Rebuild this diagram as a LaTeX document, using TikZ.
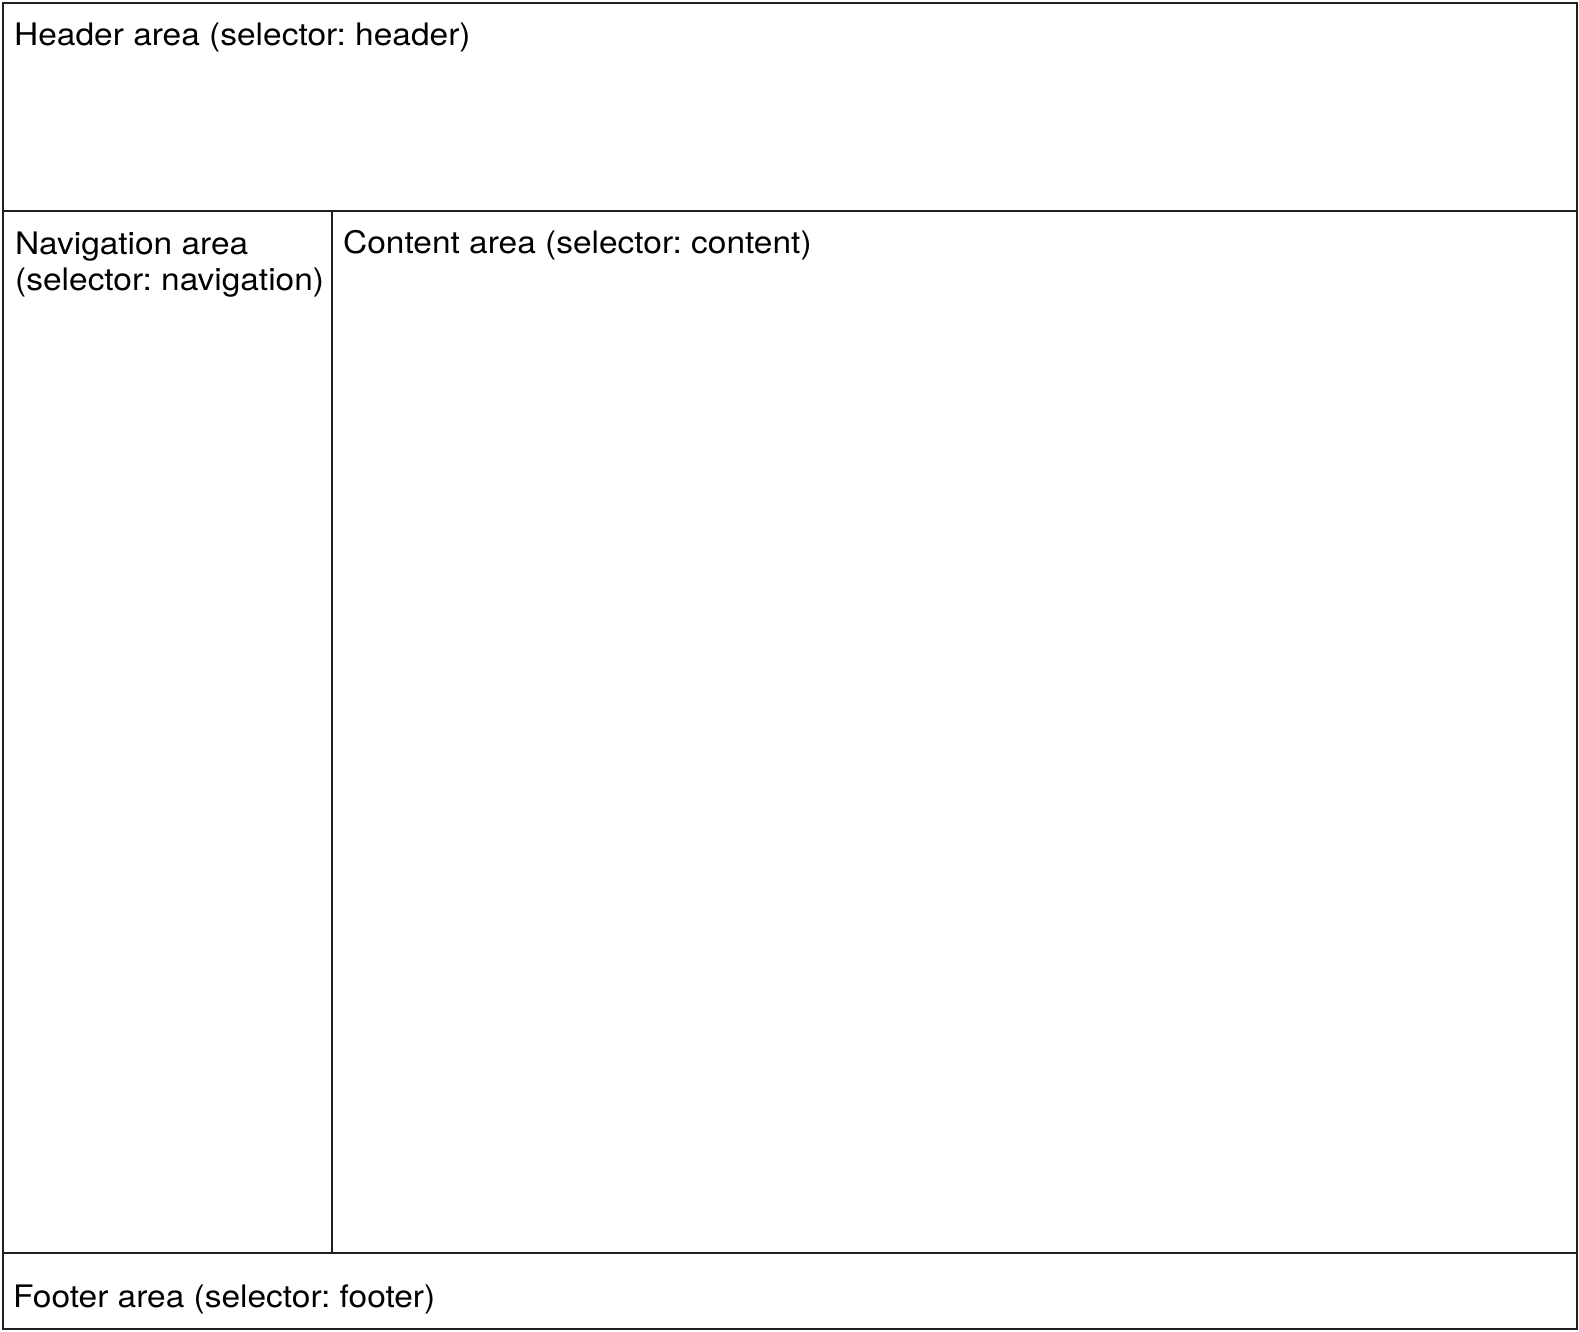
\documentclass[tikz,border=0pt]{standalone}
\usepackage{fontspec}
\setmainfont[FakeStretch=1.08]{TeX Gyre Heros}
\frenchspacing
\begin{document}
\begin{tikzpicture}[x=1pt,y=-1pt,
  frame/.style={draw=black!88,line width=2pt},
  lbl/.style={inner sep=0pt,font=\fontsize{31}{36}\selectfont,text=black,anchor=base west},
  lbl2/.style={inner sep=0pt,font=\fontsize{31}{36}\selectfont,text=black,align=left,anchor=north west}]
\useasboundingbox (0,0) rectangle (1579,1331);
\coordinate (tl) at (2.5,2.5);
\coordinate (br) at (1577,1329);
\coordinate (hl) at (2.5,211);
\coordinate (hr) at (1577,211);
\coordinate (fl) at (2.5,1252.5);
\coordinate (fr) at (1577,1252.5);
\coordinate (nt) at (332,211);
\coordinate (nb) at (332,1252.5);
\draw[frame] (tl) rectangle (br);
\draw[frame] (hl) -- (hr);
\draw[frame] (fl) -- (fr);
\draw[frame] (nt) -- (nb);
\node[lbl] (header) at (14,45) {Header area (selector: header)};
\node[lbl2] (nav) at (15,231.5) {Navigation area\\(selector: navigation)};
\node[lbl] (content) at (343,253) {Content area (selector: content)};
\node[lbl] (footer) at (13,1307) {Footer area (selector: footer)};
\end{tikzpicture}
\end{document}
